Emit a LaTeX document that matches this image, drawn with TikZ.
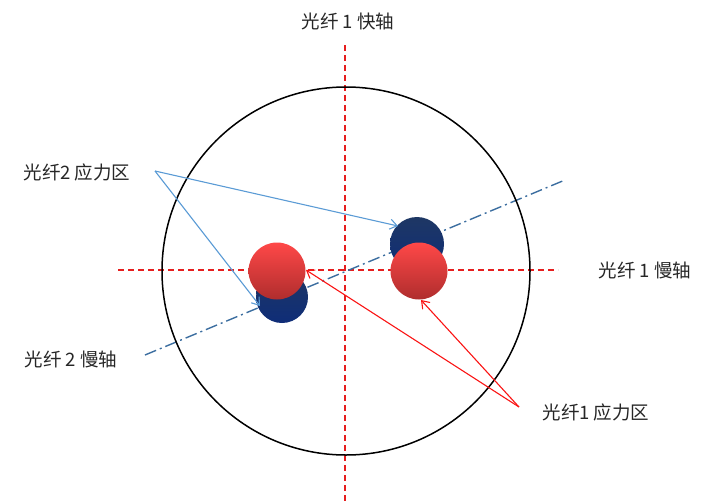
\documentclass[tikz,border=0pt]{standalone}
\usepackage{fontspec}
\newfontfamily\cjk{Noto Sans CJK SC}
\usetikzlibrary{arrows.meta}
\definecolor{axred}{RGB}{230,30,30}
\definecolor{axblue}{RGB}{60,110,160}
\definecolor{arrblue}{RGB}{91,155,213}
\definecolor{arrred}{RGB}{250,20,20}
\definecolor{redtop}{RGB}{255,72,72}
\definecolor{redbot}{RGB}{175,45,45}
\definecolor{bluetop}{RGB}{30,55,100}
\definecolor{bluebot}{RGB}{15,45,120}
\tikzset{
  lbl/.style={font=\cjk\fontsize{18.5}{21}\selectfont, text=black!85, inner sep=1pt},
  redaxis/.style={draw=axred, line width=1.3pt, dash pattern=on 6pt off 4pt},
  slowaxis/.style={draw=axblue, line width=1.4pt, dash pattern=on 12pt off 4pt on 2pt off 4pt},
  redrod/.style={circle, minimum size=57pt, inner sep=0pt, top color=redtop, bottom color=redbot},
  bluerod/.style={circle, minimum size=52pt, inner sep=0pt, top color=bluetop, bottom color=bluebot},
  bluearrow/.style={draw=arrblue, line width=1.1pt, -{Straight Barb[length=7pt,width=10pt]}},
  redarrow/.style={draw=arrred, line width=1.1pt, -{Straight Barb[length=7pt,width=10pt]}},
}
\begin{document}
\begin{tikzpicture}[x=1pt,y=-1pt]
\useasboundingbox (0,0) rectangle (720,501);
% axes
\coordinate (vt) at (345,45);
\coordinate (vb) at (345,501);
\coordinate (hl) at (118,270);
\coordinate (hr) at (558,270);
\coordinate (sl) at (145,355);
\coordinate (sr) at (565,180);
\draw[redaxis] (vt) -- (vb);
\draw[redaxis] (hl) -- (hr);
\draw[slowaxis] (sl) -- (sr);
% cladding
\node[circle, draw=black, line width=1.5pt, minimum size=368pt, inner sep=0pt] (clad) at (346,271) {};
% stress rods
\node[bluerod] (b1) at (282,297) {};
\node[bluerod, minimum size=54pt] (b2) at (417,244) {};
\node[redrod] (r1) at (277,271) {};
\node[redrod] (r2) at (419,271) {};
% labels
\node[lbl] (fast1) at (348,22) {光纤 1 快轴};
\node[lbl] (slow1) at (645,270) {光纤 1 慢轴};
\node[lbl] (slow2) at (71,359) {光纤 2 慢轴};
\node[lbl] (st2) at (77,172) {光纤2 应力区};
\node[lbl] (st1) at (596,412) {光纤1 应力区};
\coordinate (st2a) at (155,171);
\coordinate (st1a) at (519,407);
% arrows
\draw[bluearrow] (st2a) -- (398,226);
\draw[bluearrow] (st2a) -- (260,306);
\draw[redarrow] (st1a) -- (306,270);
\draw[redarrow] (st1a) -- (421,300);
\end{tikzpicture}
\end{document}
